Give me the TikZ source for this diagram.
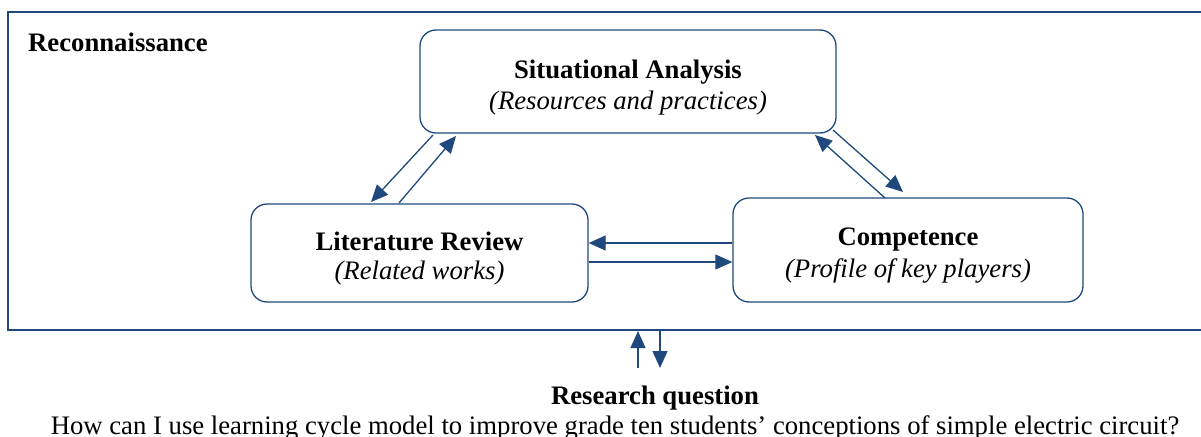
\documentclass[tikz,border=0pt]{standalone}
\usepackage{fontspec}
\setmainfont{Liberation Serif}
\usetikzlibrary{arrows.meta}
\definecolor{dblue}{RGB}{31,73,125}
\tikzset{
  box/.style={draw=dblue, line width=1.3pt, rounded corners=16pt, align=center, inner sep=0pt},
  arr/.style={draw=dblue, line width=1.3pt, -{Triangle[length=17pt,width=15pt]}},
  txt/.style={font=\fontsize{26.7}{31}\selectfont, inner sep=0pt}
}
\begin{document}
\begin{tikzpicture}[x=1pt,y=-1pt]
\useasboundingbox (0,0) rectangle (1201,436);
\draw[dblue, line width=2pt] (1230,12) -- (8,12) -- (8,330) -- (1230,330);
\node[txt, anchor=west] (recon) at (28,42) {\textbf{Reconnaissance}};
\node[box, minimum width=416pt, minimum height=103pt] (sit) at (628,81.5) {};
\node[txt] (sitt) at (628,72.5) {\textbf{Situational Analysis}};
\node[txt] (siti) at (628,103.5) {\textit{(Resources and practices)}};
\node[box, minimum width=337pt, minimum height=98pt] (lit) at (419.5,253) {};
\node[txt] (litt) at (419.5,241.5) {\textbf{Literature Review}};
\node[txt] (liti) at (419.5,273) {\textit{(Related works)}};
\node[box, minimum width=350pt, minimum height=104pt] (comp) at (908,250) {};
\node[txt] (compt) at (908,239.5) {\textbf{Competence}};
\node[txt] (compi) at (908,270.5) {\textit{(Profile of key players)}};
% diagonal arrows left
\coordinate (l1s) at (433,135);
\coordinate (l1e) at (371,202);
\coordinate (l2s) at (399,203);
\coordinate (l2e) at (456,136);
\draw[arr] (l1s) -- (l1e);
\draw[arr] (l2s) -- (l2e);
% diagonal arrows right
\coordinate (r1s) at (833,130);
\coordinate (r1e) at (903,192);
\coordinate (r2s) at (885,198);
\coordinate (r2e) at (815,135);
\draw[arr] (r1s) -- (r1e);
\draw[arr] (r2s) -- (r2e);
% horizontal arrows
\draw[arr] (comp.west |- 0,243) -- (lit.east |- 0,243);
\draw[arr] (lit.east |- 0,262) -- (comp.west |- 0,262);
% vertical arrows
\node[txt, font=\fontsize{26.7}{31}\selectfont\bfseries, anchor=base] (rq) at (655,404) {Research question};
\coordinate (u1) at (638,368);
\coordinate (u2) at (638,331);
\coordinate (d1) at (660,331);
\coordinate (d2) at (660,368);
\draw[arr] (u1) -- (u2);
\draw[arr] (d1) -- (d2);
\node[txt, anchor=base] (q) at (615,434) {How can I use learning cycle model to improve grade ten students’ conceptions of simple electric circuit?};
\end{tikzpicture}
\end{document}
